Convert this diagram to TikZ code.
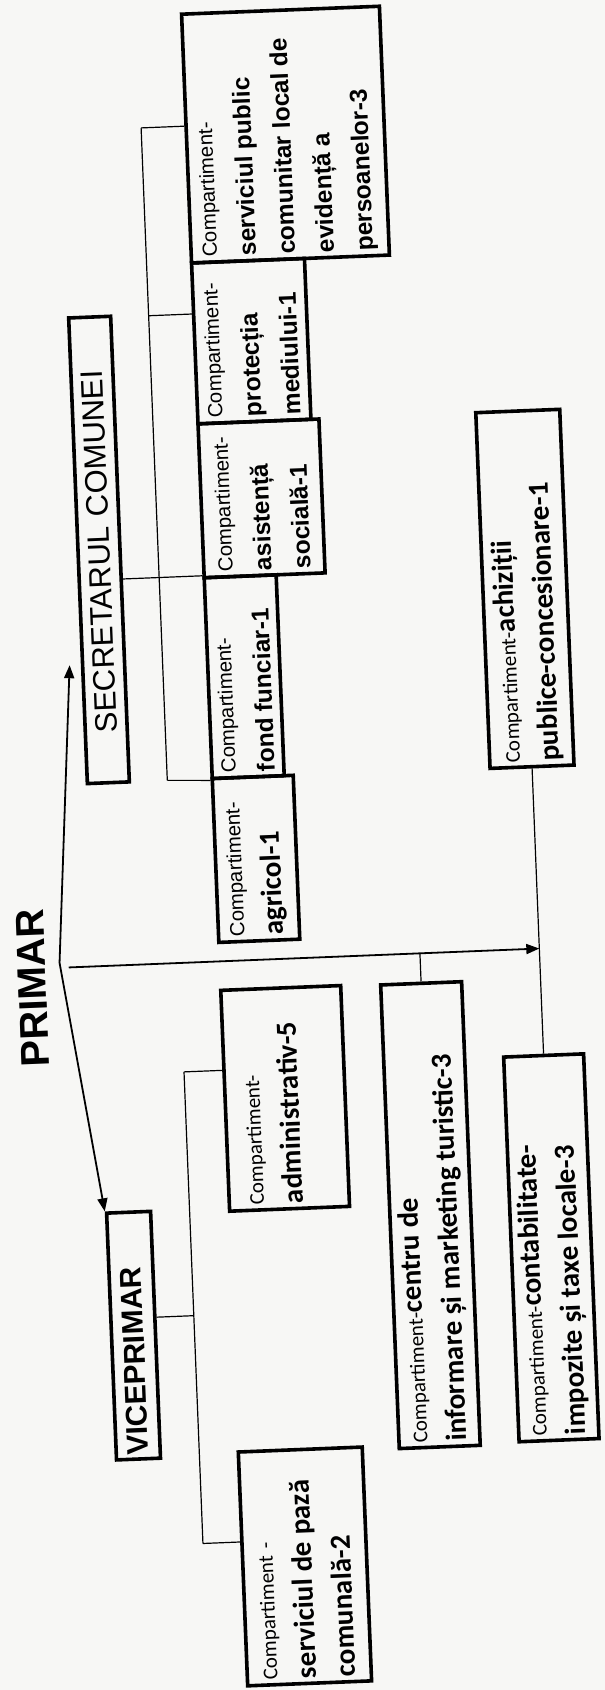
\documentclass[tikz,border=0pt]{standalone}
\usepackage{fontspec}
\setmainfont{Liberation Sans}
\newfontfamily\calibri{Carlito}
\usetikzlibrary{arrows.meta}
\definecolor{paper}{RGB}{247,247,245}
\newcommand{\cmpa}{\fontsize{20.4}{39}\selectfont}
\newcommand{\bolda}{\fontsize{24.5}{39}\selectfont\bfseries}
\newcommand{\cmpc}{\calibri\fontsize{21}{39}\selectfont}
\newcommand{\boldc}{\calibri\fontsize{29}{39}\selectfont\bfseries}
\newcommand{\lowgap}{\rule[-26pt]{0pt}{0pt}}
\tikzset{
	comp/.style n args={3}{draw, line width=3.6pt, rotate=90, inner sep=0pt, align=left, font=\cmpa,
		minimum width=#1pt, minimum height=#2pt, text width=#3pt},
	head/.style={draw, line width=3.6pt, rotate=90, inner sep=0pt, align=left},
	conn/.style={line width=1.2pt},
	arr/.style={line width=1.8pt, -{Triangle[length=13pt,width=10pt]}}
}

\begin{document}
\begin{tikzpicture}[x=1pt, y=-1pt]
	\fill[paper] (0,0) rectangle (605,1690);
	\useasboundingbox (0,0) rectangle (605,1690);
	\begin{scope}[rotate around={2.3:(302,845)}, transform shape]
		\node[rotate=90, font=\fontsize{40}{48}\selectfont\bfseries] (primar) at (27,977) {PRIMAR};
		\node[head, minimum width=466pt, minimum height=42pt, text width=366pt,
			font=\fontsize{31}{36}\selectfont] (sec) at (111,542) {SECRETARUL COMUNEI};
		\node[head, minimum width=247pt, minimum height=44pt, text width=239pt,
			font=\fontsize{30}{36}\selectfont\bfseries] (vice) at (114,1328.5) {VICEPRIMAR};

		\node[comp={249}{198}{239}] (sp) at (314,134.5) {Compartiment-\\\bolda serviciul public\\comunitar local de\\evidență a\\persoanelor-3};
		\node[comp={161}{113}{151}] (pm) at (271.5,339.5) {Compartiment-\\\bolda protecția\\mediului-1};
		\node[comp={154}{121}{144}] (as) at (275.5,497) {Compartiment-\\\bolda asistență\\socială-1};
		\node[comp={201}{72}{191}] (ff) at (251,674.5) {Compartiment-\\\bolda fond funciar-1};
		\node[comp={164}{81}{154}] (ag) at (255.5,857) {Compartiment-\\\boldc agricol-1};

		\node[comp={356}{84}{346}] (ac) at (535,598) {\cmpc Compartiment-\boldc achiziții\\publice-concesionare-1};
		\node[comp={221}{120}{211}] (ad) at (275,1097.5) {\cmpc Compartiment-\\\boldc administrativ-5\lowgap};
		\node[comp={464}{81}{454}] (ci) at (415.5,1220) {\cmpc Compartiment-\boldc centru de\\informare și marketing turistic-3};
		\node[comp={385}{80}{375}] (ct) at (535,1257.5) {\cmpc Compartiment-\boldc contabilitate-\\impozite și taxe locale-3};
		\node[comp={234}{124}{224}] (spz) at (276,1566) {\cmpc Compartiment -\\\boldc serviciul de pază\\comunală-2};

		\coordinate (apex) at (55,953);
		\coordinate (mstart) at (64,958);
		\coordinate (secarr) at (77,656);
		\coordinate (s1) at (170,122);
		\coordinate (s2) at (170,310);
		\coordinate (s3) at (170,572);
		\coordinate (s4) at (170,775);
		\coordinate (v1) at (175,1067);
		\coordinate (v2) at (175,1311);
		\coordinate (v3) at (175,1539);

		\draw[conn] (s1) -- (s4);
		\draw[conn] (s1) -- (s1 -| sp.north);
		\draw[conn] (s2) -- (s2 -| pm.north);
		\draw[conn] (s3 -| sec.south) -- (s3 -| as.north);
		\draw[conn] (s4) -- (ff.north west);
		\draw[conn] (v1) -- (v3);
		\draw[conn] (v1) -- (v1 -| ad.north);
		\draw[conn] (v2 -| vice.south) -- (v2);
		\draw[conn] (v3) -- (v3 -| spz.north);
		\draw[conn] (ac.west) -- (ct.east);
		\draw[conn] (ci.east |- mstart) -- (ci.east);

		\draw[arr] (apex) -- (secarr);
		\draw[arr] (apex) -- (vice.north east);
		\draw[arr] (mstart) -- (mstart -| ac.west);
	\end{scope}
\end{tikzpicture}
\end{document}
